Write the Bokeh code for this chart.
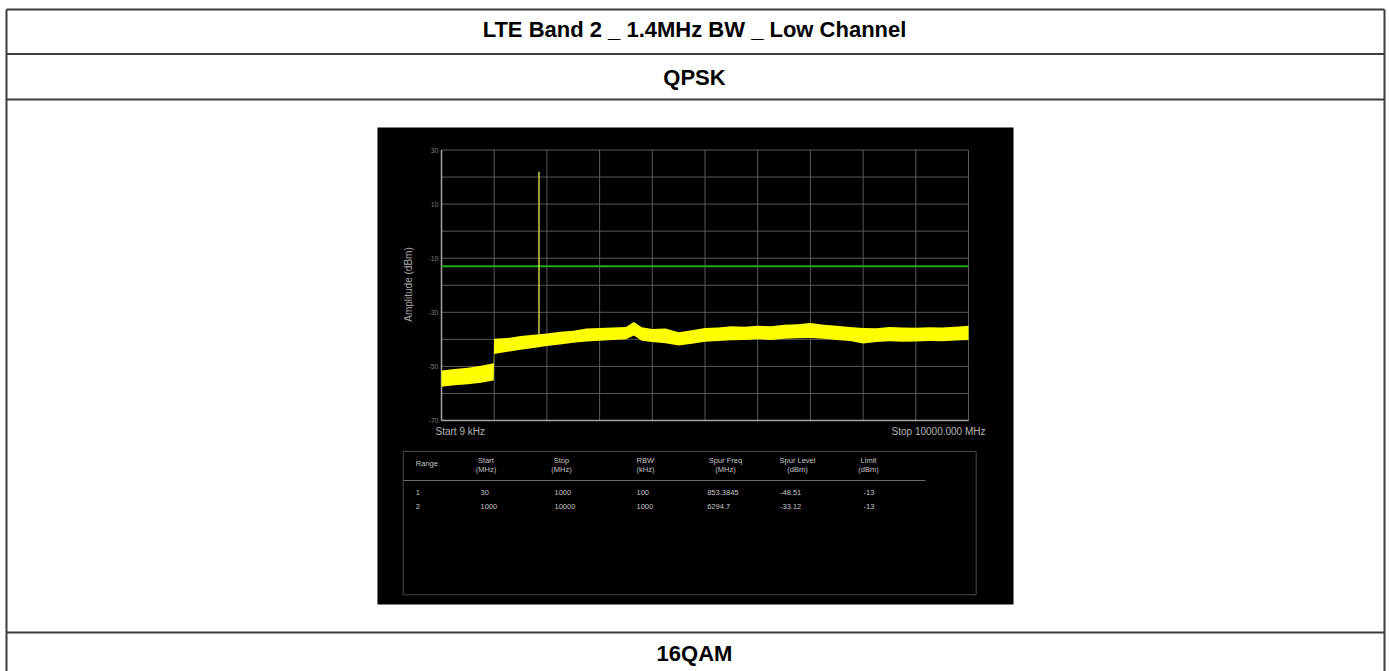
import math
from bokeh.plotting import figure
from bokeh.models import Range1d
from bokeh.embed import file_html
from bokeh.resources import INLINE
from bokeh.core.properties import value

# ---------------- data ----------------
TITLE = "LTE Band 2 _ 1.4MHz BW _ Low Channel"
SUB_1 = "QPSK"
SUB_2 = "16QAM"

start_label = "Start 9 kHz"
stop_label = "Stop 10000.000 MHz"
y_label = "Amplitude (dBm)"
y_ticks = [30, 10, -10, -30, -50, -70]
x_grid_mhz = [0, 1000, 2000, 3000, 4000, 5000, 6000, 7000, 8000, 9000, 10000]
y_grid_db = [30, 20, 10, 0, -10, -20, -30, -40, -50, -60, -70]

freq_mhz = [0, 250, 500, 750, 990, 1000, 1250, 1500, 1750, 2000, 2250, 2500, 2750,
            3000, 3250, 3500, 3650, 3800, 4000, 4250, 4500, 4750, 5000, 5250, 5500,
            5750, 6000, 6250, 6500, 6750, 7000, 7250, 7500, 7750, 8000, 8250, 8500,
            8750, 9000, 9250, 9500, 9750, 10000]
trace_upper = [-51.5, -51.0, -50.5, -49.8, -48.8, -39.8, -39.5, -38.8, -38.3, -37.8,
               -37.2, -36.8, -36.0, -35.8, -35.6, -35.4, -33.6, -35.5, -36.2, -36.0,
               -37.4, -36.6, -35.8, -35.6, -35.2, -35.3, -35.0, -35.2, -34.6, -34.4,
               -34.0, -34.6, -35.0, -35.4, -35.8, -35.9, -35.4, -35.6, -35.7, -35.5,
               -35.6, -35.3, -35.0]
trace_lower = [-57.5, -57.0, -56.6, -56.0, -55.2, -45.4, -44.6, -43.8, -43.2, -42.5,
               -41.9, -41.3, -40.8, -40.5, -40.2, -40.0, -38.6, -40.5, -41.0, -41.4,
               -42.3, -41.6, -40.9, -40.6, -40.3, -40.2, -40.0, -40.2, -39.8, -39.6,
               -39.5, -39.8, -40.2, -40.6, -41.5, -41.0, -40.7, -40.9, -40.8, -40.6,
               -40.7, -40.4, -40.2]
carrier_freq = [1850]
carrier_top = [22]
carrier_base = [-38]
limit_dbm = -13

col_heads = ["Range", "Start", "Stop", "RBW", "Spur Freq", "Spur Level", "Limit"]
col_units = ["", "(MHz)", "(MHz)", "(kHz)", "(MHz)", "(dBm)", "(dBm)"]
range_no = ["1", "2"]
start_mhz = ["30", "1000"]
stop_mhz = ["1000", "10000"]
rbw_khz = ["100", "1000"]
spur_freq = ["853.3845", "6294.7"]
spur_level = ["-48.51", "-33.12"]
limit_col = ["-13", "-13"]

# ---------------- page geometry (screen pixels) ----------------
W, H = 1389, 671
BORDER = "#3c3c3c"
FONT = "Liberation Sans"
PANEL = (377, 1013, 127, 604)          # black screenshot: left, right, top, bottom
GX0, GX1, GY0, GY1 = 441, 968, 149.5, 420   # grid area: left, right, top, bottom
X_MIN, X_MAX = x_grid_mhz[0], x_grid_mhz[-1]
Y_MIN, Y_MAX = min(y_grid_db), max(y_grid_db)

mhz_per_px = (X_MAX - X_MIN) / (GX1 - GX0)
db_per_px = (Y_MAX - Y_MIN) / (GY1 - GY0)

p = figure(width=W, height=H, x_range=Range1d(0, W), y_range=Range1d(H, 0),
           output_backend="svg", toolbar_location=None, tools="",
           x_axis_location=None, y_axis_location=None, min_border=0,
           outline_line_color=None, background_fill_color="white",
           border_fill_color="white")
p.grid.visible = False
p.extra_x_ranges = {"mhz": Range1d(X_MIN - GX0 * mhz_per_px, X_MAX + (W - GX1) * mhz_per_px)}
p.extra_y_ranges = {"db": Range1d(Y_MIN - (H - GY1) * db_per_px, Y_MAX + GY0 * db_per_px)}
S = dict(x_range_name="mhz", y_range_name="db")

# ---- document table ----
p.segment(x0=[6, 1384, 6, 6, 6, 6], x1=[6, 1384, 1384, 1384, 1384, 1384],
          y0=[9, 9, 9, 53.5, 99, 632], y1=[H, H, 9, 53.5, 99, 632],
          line_color=BORDER, line_width=2)
p.text(x=[694, 694, 694], y=[29, 76.5, 653], text=[TITLE, SUB_1, SUB_2],
       text_font=value(FONT), text_font_style="bold", text_font_size="22px",
       text_align="center", text_baseline="middle", text_color="black")

# ---- black screenshot panel ----
p.quad(left=[PANEL[0]], right=[PANEL[1]], top=[PANEL[2]], bottom=[PANEL[3]],
       fill_color="black", line_color=None)

GRID = "#5a5a5a"
n = len(x_grid_mhz)
p.segment(x0=x_grid_mhz, x1=x_grid_mhz, y0=[Y_MIN] * n, y1=[Y_MAX] * n,
          line_color=GRID, line_width=1, **S)
m = len(y_grid_db)
p.segment(x0=[X_MIN] * m, x1=[X_MAX] * m, y0=y_grid_db, y1=y_grid_db,
          line_color=GRID, line_width=1, **S)
# axis lines
p.segment(x0=[X_MIN, X_MIN], x1=[X_MIN, X_MAX], y0=[Y_MIN, Y_MIN], y1=[Y_MAX, Y_MIN],
          line_color="#a4a4a4", line_width=1.5, **S)

# limit line, carrier spike, trace
p.segment(x0=[X_MIN], x1=[X_MAX], y0=[limit_dbm], y1=[limit_dbm],
          line_color="#22aa22", line_width=2, **S)
p.segment(x0=carrier_freq, x1=carrier_freq, y0=carrier_base, y1=carrier_top,
          line_color="#cfcf4c", line_width=1.5, **S)
p.varea(x=freq_mhz, y1=trace_lower, y2=trace_upper, fill_color="#ffff00", **S)

# y tick labels and axis label
p.text(x=[X_MIN] * len(y_ticks), y=y_ticks, text=[str(t) for t in y_ticks],
       x_offset=-3, text_font=value(FONT), text_font_size="7px",
       text_color="#7c7c7c", text_align="right", text_baseline="middle", **S)
p.text(x=[407.7], y=[284], text=[y_label], angle=math.pi / 2,
       text_font=value(FONT), text_font_size="10px", text_color="#a8a8a8",
       text_align="center", text_baseline="middle")
p.text(x=[435], y=[431], text=[start_label], text_font=value(FONT),
       text_font_size="10px", text_color="#b4b4b4", text_align="left",
       text_baseline="middle")
p.text(x=[985], y=[431], text=[stop_label], text_font=value(FONT),
       text_font_size="10px", text_color="#b4b4b4", text_align="right",
       text_baseline="middle")

# ---- result table inside the screenshot ----
p.quad(left=[402.7], right=[975.7], top=[451], bottom=[594.3], fill_color=None,
       line_color="#4a4a4a", line_width=1)
p.segment(x0=[402.7], x1=[925], y0=[480], y1=[480], line_color="#6a6a6a", line_width=1.2)

TXT = dict(text_font=value(FONT), text_font_size="7.5px", text_color="#c4c4c4",
           text_baseline="middle")
p.text(x=[415.3], y=[462.5], text=[col_heads[0]], text_align="left", **TXT)
p.text(x=[636, 636], y=[460, 468.5], text=[col_heads[3], col_units[3]],
       text_align="left", **TXT)
center_x = [485.5, 561, 725, 797, 868]
center_i = [1, 2, 4, 5, 6]
p.text(x=center_x, y=[460] * 5, text=[col_heads[i] for i in center_i],
       text_align="center", **TXT)
p.text(x=center_x, y=[468.5] * 5, text=[col_units[i] for i in center_i],
       text_align="center", **TXT)

val_x = [415.3, 480, 554, 636, 706.7, 779.5, 863]
columns_vals = [range_no, start_mhz, stop_mhz, rbw_khz, spur_freq, spur_level, limit_col]
row_y = [491.7, 505.7]
for cx, vals in zip(val_x, columns_vals):
    p.text(x=[cx, cx], y=row_y, text=vals, text_align="left", **TXT)

open("out.html", "w").write(file_html(p, INLINE))
